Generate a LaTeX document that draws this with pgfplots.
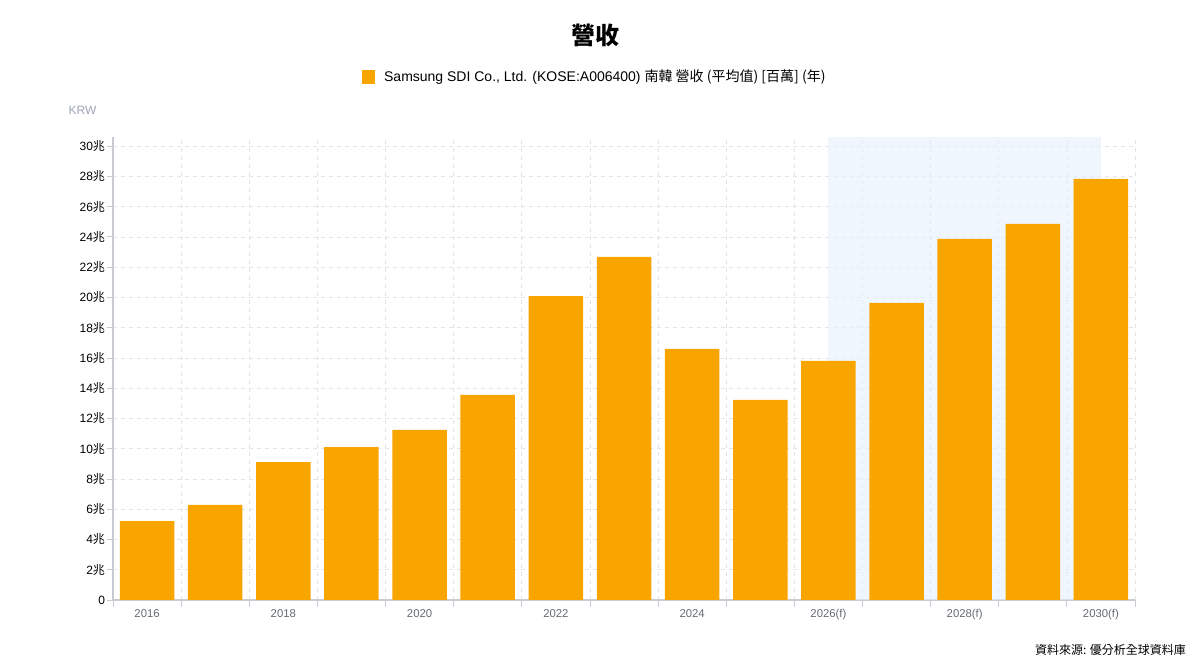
\documentclass[border=0pt]{standalone}
\usepackage{pgfplots}
\pgfplotsset{compat=1.18}
\usepackage{fontspec}
\setmainfont{Liberation Sans}
\newfontfamily\cjk{Noto Sans CJK TC}
\definecolor{barc}{HTML}{F8A500}
\definecolor{shade}{HTML}{E6F0FC}
\definecolor{gridc}{HTML}{E2E4E8}
\definecolor{axc}{HTML}{C8CCD2}
\definecolor{labc}{HTML}{666B73}
\definecolor{krw}{HTML}{9AA5B5}
\begin{document}
\begin{tikzpicture}
\path[use as bounding box] (0,0) rectangle (900pt,503.25pt);
\begin{axis}[
  at={(84.75pt,53.25pt)}, anchor=south west,
  scale only axis, width=766.5pt, height=347.25pt,
  xmin=-0.5, xmax=14.5, ymin=0, ymax=30.6,
  axis x line*=bottom, axis y line*=left,
  axis line style={-, draw=axc, line width=0.8pt},
  xtick={0,2,...,14},
  xticklabels={2016,2018,2020,2022,2024,2026(f),2028(f),2030(f)},
  minor xtick={-0.5,0.5,...,14.5},
  major x tick style={draw=none},
  minor x tick style={draw=axc, line width=0.6pt},
  minor tick length=5pt,
  tick align=outside,
  xminorgrids=true,
  ymajorgrids=true,
  minor x grid style={draw=gridc, dashed, line width=0.5pt},
  major y grid style={draw=gridc, dashed, line width=0.5pt},
  ytick={0,2,...,30},
  yticklabels={0,2{\cjk 兆},4{\cjk 兆},6{\cjk 兆},8{\cjk 兆},10{\cjk 兆},12{\cjk 兆},14{\cjk 兆},16{\cjk 兆},18{\cjk 兆},20{\cjk 兆},22{\cjk 兆},24{\cjk 兆},26{\cjk 兆},28{\cjk 兆},30{\cjk 兆}},
  major y tick style={draw=axc, line width=0.6pt},
  major tick length=4.5pt,
  yticklabel style={font=\fontsize{9}{10}\selectfont, text=black, xshift=2pt},
  xticklabel style={font=\fontsize{8.5}{10}\selectfont, text=labc, yshift=1pt},
  /pgf/number format/assume math mode=true,
  legend style={at={(0.4716,1.1296)}, anchor=center, draw=none, fill=none,
    font=\fontsize{10.5}{12}\selectfont, legend cell align=left},
  legend image code/.code={\fill[barc] (2pt,-4.9pt) rectangle (11.75pt,4.9pt);},
]
\addplot[fill=shade, fill opacity=0.6, draw=none, forget plot]
  coordinates {(10,0) (10,30.6) (14,30.6) (14,0)} -- cycle;
\addplot[ybar, bar width=0.8, fill=barc, draw=none] coordinates {
 (0,5.22) (1,6.28) (2,9.12) (3,10.11) (4,11.24) (5,13.55) (6,20.09)
 (7,22.67) (8,16.59) (9,13.22) (10,15.80) (11,19.63) (12,23.86)
 (13,24.85) (14,27.83)};
\addlegendentry{\hspace{5pt}Samsung SDI Co., Ltd. (KOSE:A006400) {\cjk 南韓 營收 (平均值) [百萬] (年)}}
\end{axis}
\node[font=\cjk\bfseries\fontsize{18}{20}\selectfont] at (446.25pt,477pt) {營收};
\node[anchor=west, text=krw, font=\fontsize{9}{10}\selectfont] at (48pt,420.75pt) {KRW};
\node[anchor=east, font=\cjk\fontsize{9}{10}\selectfont] at (893pt,15.75pt) {資料來源: 優分析全球資料庫};
\end{tikzpicture}
\end{document}
